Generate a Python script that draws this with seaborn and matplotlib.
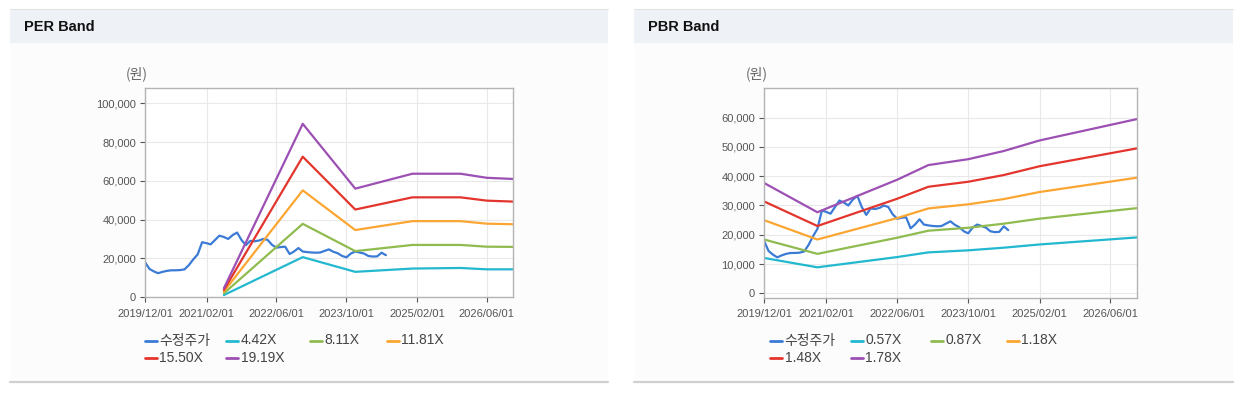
import matplotlib.pyplot as plt
import matplotlib.ticker as ticker
from matplotlib.lines import Line2D
from matplotlib.patches import Rectangle
import pandas as pd
import seaborn as sns

sns.set_style("white")
plt.rcParams["font.family"] = ["Liberation Sans", "Noto Sans CJK KR"]

W, H = 1243, 397

# adjusted price (monthly, 2019/12 .. 2024/07)
price_dates = pd.date_range("2019-12-01", periods=56, freq="MS")
price = [18000, 14500, 13200, 12300, 13000, 13500, 13800, 13800, 13900, 14300,
         16500, 19500, 22000, 28300, 27800, 27200, 29500, 31700, 31000, 30000,
         32000, 33300, 29500, 26800, 29000, 28800, 29200, 30000, 29500, 27000,
         25500, 25800, 26000, 22200, 23500, 25300, 23500, 23200, 23000, 22900,
         23000, 23800, 24600, 23400, 22600, 21200, 20500, 22500, 23500, 23000,
         22400, 21200, 20900, 21000, 22900, 21600]

# PER band
per_labels = ["4.42X", "8.11X", "11.81X", "15.50X", "19.19X"]
per_dates = pd.to_datetime(["2021-06-01", "2022-12-01", "2023-12-01", "2025-01-01",
                            "2025-12-01", "2026-06-01", "2026-12-01"])
per_442 = [1000, 20600, 13000, 14700, 15000, 14300, 14300]
per_811 = [1900, 37800, 23700, 26900, 26900, 26000, 25900]
per_1181 = [2800, 55100, 34600, 39200, 39200, 37900, 37600]
per_1550 = [3600, 72500, 45200, 51500, 51500, 49800, 49300]
per_1919 = [4500, 89500, 56000, 63700, 63700, 61600, 61000]

# PBR band
pbr_labels = ["0.57X", "0.87X", "1.18X", "1.48X", "1.78X"]
pbr_dates = pd.to_datetime(["2019-12-01", "2020-12-01", "2022-06-01", "2023-01-01",
                            "2023-10-01", "2024-06-01", "2025-02-01", "2026-12-01"])
pbr_057 = [12100, 8900, 12400, 14000, 14700, 15600, 16700, 19100]
pbr_087 = [18400, 13500, 19000, 21400, 22400, 23800, 25500, 29100]
pbr_118 = [25000, 18400, 25700, 29000, 30400, 32200, 34600, 39500]
pbr_148 = [31400, 23000, 32300, 36400, 38100, 40400, 43400, 49500]
pbr_178 = [37700, 27700, 38800, 43800, 45800, 48600, 52200, 59500]

xtick_dates = ["2019-12-01", "2021-02-01", "2022-06-01", "2023-10-01", "2025-02-01", "2026-06-01"]

price_name = "수정주가"
colors = ["#3b7bd6", "#22b8cf", "#8fbb4f", "#fba632", "#e3352d", "#9c50b3"]


def make_df(dates, bands, labels):
    parts = [pd.DataFrame({"date": price_dates, "value": price, "series": price_name})]
    for lab, vals in zip(labels, bands):
        parts.append(pd.DataFrame({"date": dates, "value": vals, "series": lab}))
    return pd.concat(parts, ignore_index=True)


per_df = make_df(per_dates, [per_442, per_811, per_1181, per_1550, per_1919], per_labels)
pbr_df = make_df(pbr_dates, [pbr_057, pbr_087, pbr_118, pbr_148, pbr_178], pbr_labels)

fig = plt.figure(figsize=(W / 100, H / 100), dpi=100)
fig.patch.set_facecolor("white")


def fx(x):
    return x / W


def fy(y):
    return 1 - y / H


def panel(x0, x1, title):
    fig.patches.append(Rectangle((fx(x0), fy(382)), fx(x1 - x0), (382 - 43) / H,
                                 transform=fig.transFigure, facecolor="#fcfcfc",
                                 edgecolor="none", zorder=-5))
    fig.patches.append(Rectangle((fx(x0), fy(43)), fx(x1 - x0), 34 / H,
                                 transform=fig.transFigure, facecolor="#eef2f7",
                                 edgecolor="none", zorder=-5))
    fig.lines.append(Line2D([fx(x0), fx(x1)], [fy(8.5), fy(8.5)], transform=fig.transFigure,
                            color="#e2e2e2", lw=0.8, zorder=-4))
    fig.lines.append(Line2D([fx(x0), fx(x1)], [fy(382), fy(382)], transform=fig.transFigure,
                            color="#cfcfcf", lw=1.6, zorder=-4))
    fig.text(fx(x0 + 14), fy(27), title, fontsize=10.5, fontweight="bold",
             color="#111111", va="center", ha="left")


panel(10, 608, "PER Band")
panel(634, 1233, "PBR Band")


def draw(rect, df, labels, ymin, ymax, ystep, ytop, unit_x, leg_x):
    ax = fig.add_axes(rect)
    ax.set_facecolor("white")
    palette = dict(zip([price_name] + labels, colors))
    sns.lineplot(data=df, x="date", y="value", hue="series", palette=palette,
                 linewidth=1.6, legend=False, ax=ax, sort=True)
    ax.set_xlim(pd.Timestamp("2019-12-01"), pd.Timestamp("2026-12-01"))
    ax.set_ylim(ymin, ymax)
    ax.set_yticks(range(0, ytop + 1, ystep))
    ax.yaxis.set_major_formatter(ticker.FuncFormatter(lambda v, p: f"{int(v):,}"))
    ax.set_xticks(pd.to_datetime(xtick_dates))
    ax.set_xticklabels([d.replace("-", "/") for d in xtick_dates])
    ax.set_xlabel("")
    ax.set_ylabel("")
    ax.grid(True, color="#e9e9e9", lw=0.8)
    ax.set_axisbelow(True)
    for s in ax.spines.values():
        s.set_color("#b4b4b4")
        s.set_linewidth(1.0)
    ax.tick_params(axis="both", labelsize=8, colors="#555555", length=3.5, width=0.8,
                   direction="out", left=True, bottom=True)
    ax.tick_params(axis="y", pad=3)
    ax.tick_params(axis="x", pad=5)
    fig.text(fx(unit_x), fy(74), "(원)", fontsize=10, color="#666666",
             ha="center", va="center", family=["Noto Sans CJK KR", "DejaVu Sans"])

    names = [price_name] + labels
    slots = [(0, 0), (1, 0), (2, 0), (3, 0), (0, 1), (1, 1)]
    for name, c, (col, row) in zip(names, colors, slots):
        x0 = leg_x[col]
        y0 = 340.5 + row * 17.5
        fig.lines.append(Line2D([fx(x0), fx(x0 + 12)], [fy(y0), fy(y0)],
                                transform=fig.transFigure, color=c, lw=2.0))
        fig.text(fx(x0 + 14.5), fy(y0), name, fontsize=10, color="#444444",
                 ha="left", va="center")
    return ax


draw([fx(145), fy(297), 368 / W, 209 / H], per_df, per_labels,
     0, 108000, 20000, 100000, 137, [145, 226, 310, 387])
draw([fx(764), fy(297.5), 373 / W, 209.2 / H], pbr_df, pbr_labels,
     -1400, 70000, 10000, 60000, 757, [770, 851, 931, 1007])

fig.savefig("out.png", dpi=100, facecolor=fig.get_facecolor())
